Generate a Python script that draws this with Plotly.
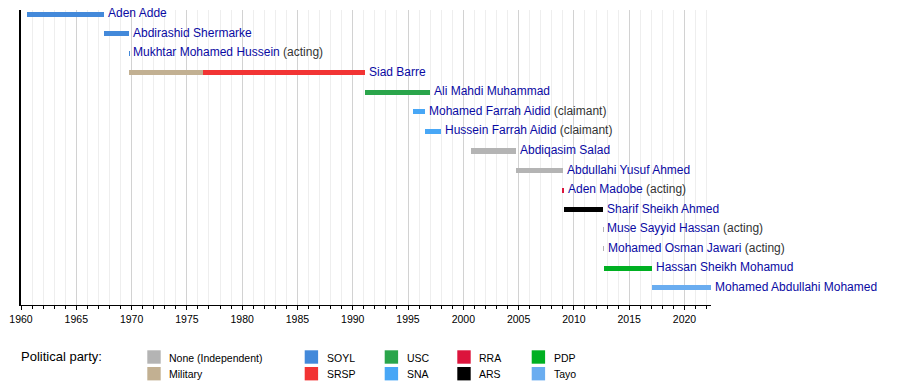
import plotly.graph_objects as go

# ---------------- data ----------------
names = [
    "Aden Adde", "Abdirashid Shermarke", "Mukhtar Mohamed Hussein", "Siad Barre",
    "Ali Mahdi Muhammad", "Mohamed Farrah Aidid", "Hussein Farrah Aidid",
    "Abdiqasim Salad", "Abdullahi Yusuf Ahmed", "Aden Madobe", "Sharif Sheikh Ahmed",
    "Muse Sayyid Hassan", "Mohamed Osman Jawari", "Hassan Sheikh Mohamud",
    "Mohamed Abdullahi Mohamed",
]
notes = ["", "", "(acting)", "", "", "(claimant)", "(claimant)", "", "", "(acting)",
         "", "(acting)", "(acting)", "", ""]

# terms: person index, start year, end year, party
term_person = [0, 1, 2, 3, 3, 4, 5, 6, 7, 8, 9, 10, 11, 12, 13, 14]
term_start = [1960.50, 1967.51, 1969.79, 1969.81, 1976.50, 1991.07, 1995.45, 1996.58,
              2000.65, 2004.79, 2008.99, 2009.08, 2012.64, 2012.66, 2012.71, 2017.10]
term_end = [1967.51, 1969.79, 1969.81, 1976.50, 1991.07, 1997.01, 1996.58, 1997.97,
            2004.79, 2008.99, 2009.08, 2012.64, 2012.66, 2012.69, 2017.10, 2022.37]
term_party = ["SOYL", "SOYL", "SOYL", "Military", "SRSP", "USC", "SNA", "SNA",
              "None (Independent)", "None (Independent)", "RRA", "ARS",
              "None (Independent)", "None (Independent)", "PDP", "Tayo"]

parties = ["None (Independent)", "Military", "SOYL", "SRSP", "USC", "SNA",
           "RRA", "ARS", "PDP", "Tayo"]
party_colors = ["#b4b4b4", "#c2b092", "#4389da", "#f23434", "#2aa54b", "#48a7f6",
                "#dc143c", "#000000", "#00b022", "#6aadf0"]

x_ticks = [1960, 1965, 1970, 1975, 1980, 1985, 1990, 1995, 2000, 2005, 2010, 2015, 2020]

# ---------------- figure ----------------
FONT = "Liberation Sans, Arial, sans-serif"
W, H = 900, 384
ML, MR, MT, MB = 21, 189, 10, 79

fig = go.Figure()
color_of = dict(zip(parties, party_colors))
for p in parties:
    idx = [i for i, tp in enumerate(term_party) if tp == p]
    if not idx:
        continue
    fig.add_trace(go.Bar(
        orientation="h",
        y=[term_person[i] for i in idx],
        base=[term_start[i] for i in idx],
        x=[term_end[i] - term_start[i] for i in idx],
        width=0.26,
        marker=dict(color=color_of[p], line=dict(width=0)),
        showlegend=False,
        hoverinfo="skip",
    ))

# name labels at the end of each person's last term
for k, nm in enumerate(names):
    end = max(term_end[i] for i in range(len(term_person)) if term_person[i] == k)
    txt = f"<span style='color:#0a0aa3'>{nm}</span>"
    if notes[k]:
        txt += f" <span style='color:#333333'>{notes[k]}</span>"
    fig.add_annotation(x=end, y=k, xref="x", yref="y", text=txt, showarrow=False,
                       xanchor="left", yanchor="middle", xshift=2, yshift=1,
                       font=dict(family=FONT, size=12))

# legend (drawn in pixel space converted to paper coords)
pw, ph = W - ML - MR, H - MT - MB
def px(xp):
    return (xp - ML) / pw
def py(yp):
    return (H - MB - yp) / ph

fig.add_annotation(x=px(19), y=py(357), xref="paper", yref="paper",
                   text="Political party:", showarrow=False, xanchor="left",
                   yanchor="middle", font=dict(family=FONT, size=13, color="#000"))
col_x = [147.3, 304.7, 384.7, 457.3, 531.7]
row_y = [350.3, 367.0]
for i, (p, c) in enumerate(zip(parties, party_colors)):
    cx = col_x[i // 2]
    ry = row_y[i % 2]
    fig.add_shape(type="rect", xref="paper", yref="paper",
                  x0=px(cx), x1=px(cx + 13.4), y0=py(ry + 13.4), y1=py(ry),
                  fillcolor=c, line=dict(width=0))
    fig.add_annotation(x=px(cx + 20), y=py(ry + 7.3), xref="paper", yref="paper",
                       text=p, showarrow=False, xanchor="left", yanchor="middle",
                       font=dict(family=FONT, size=10.5, color="#000"))

fig.update_layout(
    width=W, height=H,
    margin=dict(l=ML, r=MR, t=MT, b=MB, pad=0),
    paper_bgcolor="white", plot_bgcolor="white",
    barmode="overlay",
    bargap=0,
    font=dict(family=FONT, size=11, color="#000"),
    xaxis=dict(
        range=[1960, 2022.4],
        tickvals=x_ticks,
        ticktext=[str(t) for t in x_ticks],
        ticks="outside", ticklen=4, tickcolor="#000", tickwidth=1,
        showline=True, linecolor="#000", linewidth=1,
        showgrid=True, gridcolor="#d2d2d2", gridwidth=1,
        zeroline=False,
        tickfont=dict(family=FONT, size=10.5, color="#000"),
        minor=dict(dtick=1, tick0=1960, showgrid=True, gridcolor="#eeeeee",
                   ticks="outside", ticklen=3, tickcolor="#000"),
        fixedrange=True,
    ),
    yaxis=dict(
        range=[14.88, -0.215],
        showticklabels=False, ticks="", showgrid=False, zeroline=False,
        showline=True, linecolor="#000", linewidth=1.5,
        fixedrange=True,
    ),
)

fig.write_html(
    "out.html",
    config={"displayModeBar": False},
    post_script="document.body.style.margin='0px';document.body.style.overflow='hidden';",
)
